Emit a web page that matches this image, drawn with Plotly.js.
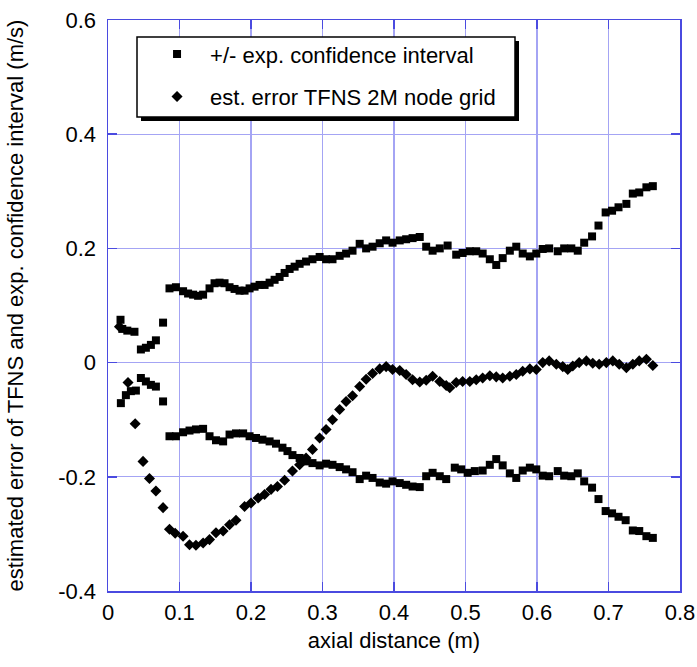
<!DOCTYPE html>
<html>
<head>
<meta charset="utf-8">
<script src="https://cdn.plot.ly/plotly-3.0.1.min.js"></script>
<style>html,body{margin:0;padding:0;background:#fff;}#chart{width:697px;height:667px;}</style>
</head>
<body>
<div id="chart"></div>
<script>
// +/- experimental confidence interval (upper branch)
var ciUpX = [0.0175,0.020,0.027,0.037,0.046,0.053,0.060,0.067,0.077,
  0.086,0.095,0.105,0.112,0.119,0.126,0.133,0.142,0.149,0.156,0.163,0.170,0.177,0.184,0.191,0.198,0.205,0.212,0.219,0.226,0.233,0.240,0.247,0.254,0.261,
  0.268,0.277,0.286,0.296,0.305,0.314,0.324,0.333,0.342,0.352,0.361,0.370,0.380,0.389,0.398,0.408,0.417,0.426,0.436,0.445,0.454,0.464,0.475,0.487,0.496,0.506,0.515,
  0.524,0.534,0.543,0.552,0.562,0.571,0.580,0.590,0.599,0.608,0.617,0.629,0.638,0.648,0.657,0.666,0.677,0.686,0.696,0.705,0.714,0.725,0.734,0.743,0.753,0.762];
var ciUpY = [0.075,0.059,0.056,0.054,0.023,0.026,0.031,0.039,0.070,
  0.130,0.132,0.125,0.121,0.119,0.117,0.119,0.130,0.139,0.140,0.139,0.132,0.129,0.126,0.126,0.130,0.133,0.136,0.136,0.140,0.145,0.150,0.157,0.164,0.168,
  0.173,0.177,0.181,0.185,0.181,0.181,0.187,0.191,0.196,0.208,0.200,0.203,0.209,0.214,0.210,0.214,0.216,0.218,0.220,0.203,0.196,0.200,0.205,0.189,0.192,0.195,0.195,
  0.191,0.181,0.171,0.183,0.196,0.203,0.191,0.186,0.191,0.199,0.200,0.195,0.200,0.200,0.196,0.210,0.221,0.240,0.263,0.266,0.272,0.278,0.296,0.298,0.307,0.309];
// lower branch
var ciLoX = [0.018,0.025,0.032,0.039,0.046,0.053,0.060,0.067,0.077,
  0.086,0.095,0.105,0.114,0.123,0.133,0.142,0.151,0.161,0.170,0.179,0.189,0.198,0.207,0.216,0.226,0.235,0.244,0.251,0.258,
  0.268,0.277,0.286,0.296,0.305,0.314,0.324,0.333,0.342,0.352,0.361,0.370,0.380,0.389,0.398,0.408,0.417,0.426,0.436,0.445,0.454,0.464,0.473,0.485,0.494,0.503,0.513,
  0.524,0.534,0.543,0.552,0.562,0.571,0.580,0.590,0.599,0.608,0.617,0.629,0.638,0.648,0.657,0.666,0.677,0.686,0.696,0.705,0.714,0.724,0.734,0.743,0.753,0.762];
var ciLoY = [-0.071,-0.057,-0.050,-0.049,-0.027,-0.033,-0.039,-0.042,-0.068,
  -0.129,-0.129,-0.122,-0.119,-0.117,-0.116,-0.129,-0.136,-0.138,-0.126,-0.124,-0.124,-0.129,-0.132,-0.135,-0.138,-0.142,-0.149,-0.155,-0.162,
  -0.167,-0.173,-0.176,-0.180,-0.177,-0.179,-0.183,-0.187,-0.192,-0.204,-0.198,-0.202,-0.210,-0.212,-0.208,-0.211,-0.214,-0.217,-0.218,-0.199,-0.193,-0.199,-0.204,-0.184,-0.187,-0.193,-0.190,
  -0.189,-0.179,-0.169,-0.180,-0.194,-0.202,-0.189,-0.184,-0.187,-0.198,-0.199,-0.190,-0.198,-0.199,-0.194,-0.208,-0.219,-0.239,-0.260,-0.264,-0.270,-0.276,-0.294,-0.295,-0.304,-0.307];
// estimated error TFNS 2M node grid
var errX = [0.016,0.028,0.038,0.049,0.058,0.067,0.077,
  0.086,0.094,0.105,0.114,0.123,0.133,0.142,0.151,0.161,0.170,0.179,0.191,0.200,0.210,0.219,0.228,0.237,0.247,
  0.258,0.268,0.277,0.286,0.296,0.305,0.314,0.324,0.333,0.342,0.352,0.361,0.370,0.380,0.389,0.398,0.408,0.417,0.426,0.436,0.445,0.454,0.464,0.473,0.478,0.487,0.496,0.506,0.515,
  0.524,0.534,0.543,0.552,0.562,0.571,0.580,0.590,0.599,0.608,0.617,0.627,0.636,0.643,0.650,0.659,0.669,0.678,0.687,0.697,0.706,0.715,0.725,0.734,0.743,0.753,0.762];
var errY = [0.063,-0.035,-0.107,-0.173,-0.203,-0.225,-0.254,
  -0.292,-0.299,-0.304,-0.319,-0.320,-0.316,-0.310,-0.298,-0.295,-0.284,-0.276,-0.252,-0.246,-0.237,-0.231,-0.222,-0.217,-0.206,
  -0.190,-0.179,-0.167,-0.152,-0.132,-0.117,-0.100,-0.082,-0.068,-0.058,-0.042,-0.029,-0.019,-0.011,-0.007,-0.012,-0.014,-0.021,-0.030,-0.034,-0.031,-0.024,-0.033,-0.040,-0.044,-0.035,-0.033,-0.033,-0.030,
  -0.027,-0.023,-0.025,-0.027,-0.024,-0.021,-0.015,-0.011,-0.012,0.000,0.003,-0.003,-0.007,-0.012,-0.006,0.000,0.003,-0.001,-0.003,0.000,0.003,-0.003,-0.009,-0.003,0.003,0.006,-0.005];

var xTicks = [0,0.1,0.2,0.3,0.4,0.5,0.6,0.7,0.8];
var xTickText = ['0','0.1','0.2','0.3','0.4','0.5','0.6','0.7','0.8'];
var yTicks = [-0.4,-0.2,0,0.2,0.4,0.6];
var yTickText = ['-0.4','-0.2','0','0.2','0.4','0.6'];

var FONT = 'Liberation Sans, Arial, Helvetica, sans-serif';
var gridCol = '#a4a4f4';
var axisCol = '#4a4ae0';

var traces = [
  {
    x: ciUpX.concat(ciLoX), y: ciUpY.concat(ciLoY),
    type: 'scatter', mode: 'markers', name: '+/- exp. confidence interval',
    legendgroup: 'a',
    marker: {symbol: 'square', size: 8, color: '#000'}
  },
  {
    x: errX, y: errY,
    type: 'scatter', mode: 'markers', name: 'est. error TFNS 2M node grid',
    legendgroup: 'b',
    marker: {symbol: 'diamond', size: 8.5, color: '#000'}
  }
];

var layout = {
  width: 697, height: 667,
  margin: {l: 108, r: 17, t: 20, b: 76},
  paper_bgcolor: '#fff', plot_bgcolor: '#fff',
  font: {family: FONT, size: 22, color: '#000'},
  showlegend: true,
  legend: {
    x: 0.063, y: 0.977, xanchor: 'left', yanchor: 'top',
    bgcolor: 'rgba(0,0,0,0)', borderwidth: 0,
    font: {family: FONT, size: 22, color: '#000'},
    itemwidth: 56,
    traceorder: 'grouped', tracegroupgap: 11
  },
  xaxis: {
    range: [0, 0.8], tickvals: xTicks, ticktext: xTickText,
    showgrid: true, gridcolor: gridCol, gridwidth: 1.2,
    zeroline: false, showline: true, linecolor: axisCol, linewidth: 1.5, mirror: 'ticks',
    ticks: 'inside', ticklen: 9, tickcolor: axisCol, tickwidth: 1.5,
    tickfont: {family: FONT, size: 22, color: '#000'},
    ticklabelstandoff: 1,
    title: {text: 'axial distance (m)', font: {family: FONT, size: 22, color: '#000'}, standoff: 8}
  },
  yaxis: {
    range: [-0.4, 0.6], tickvals: yTicks, ticktext: yTickText,
    showgrid: true, gridcolor: gridCol, gridwidth: 1.2,
    zeroline: false, showline: true, linecolor: axisCol, linewidth: 1.5, mirror: 'ticks',
    ticks: 'inside', ticklen: 9, tickcolor: axisCol, tickwidth: 1.5,
    tickfont: {family: FONT, size: 22, color: '#000'},
    ticklabelstandoff: 6,
    title: {text: 'estimated error of TFNS and exp. confidence interval (m/s)', font: {family: FONT, size: 22, color: '#000'}, standoff: 28}
  },
  shapes: [
    {type: 'rect', xref: 'paper', yref: 'paper', layer: 'above',
     x0: (141 - 108) / 572, x1: (519 - 108) / 572, y0: (591 - 121) / 571, y1: (591 - 41) / 571,
     fillcolor: '#000', line: {width: 0}},
    {type: 'rect', xref: 'paper', yref: 'paper', layer: 'above',
     x0: (137 - 108) / 572, x1: (515 - 108) / 572, y0: (591 - 117) / 571, y1: (591 - 37) / 571,
     fillcolor: '#fff', line: {color: '#000', width: 1.5}}
  ]
};

Plotly.newPlot('chart', traces, layout, {displayModeBar: false, staticPlot: true});
</script>
</body>
</html>
